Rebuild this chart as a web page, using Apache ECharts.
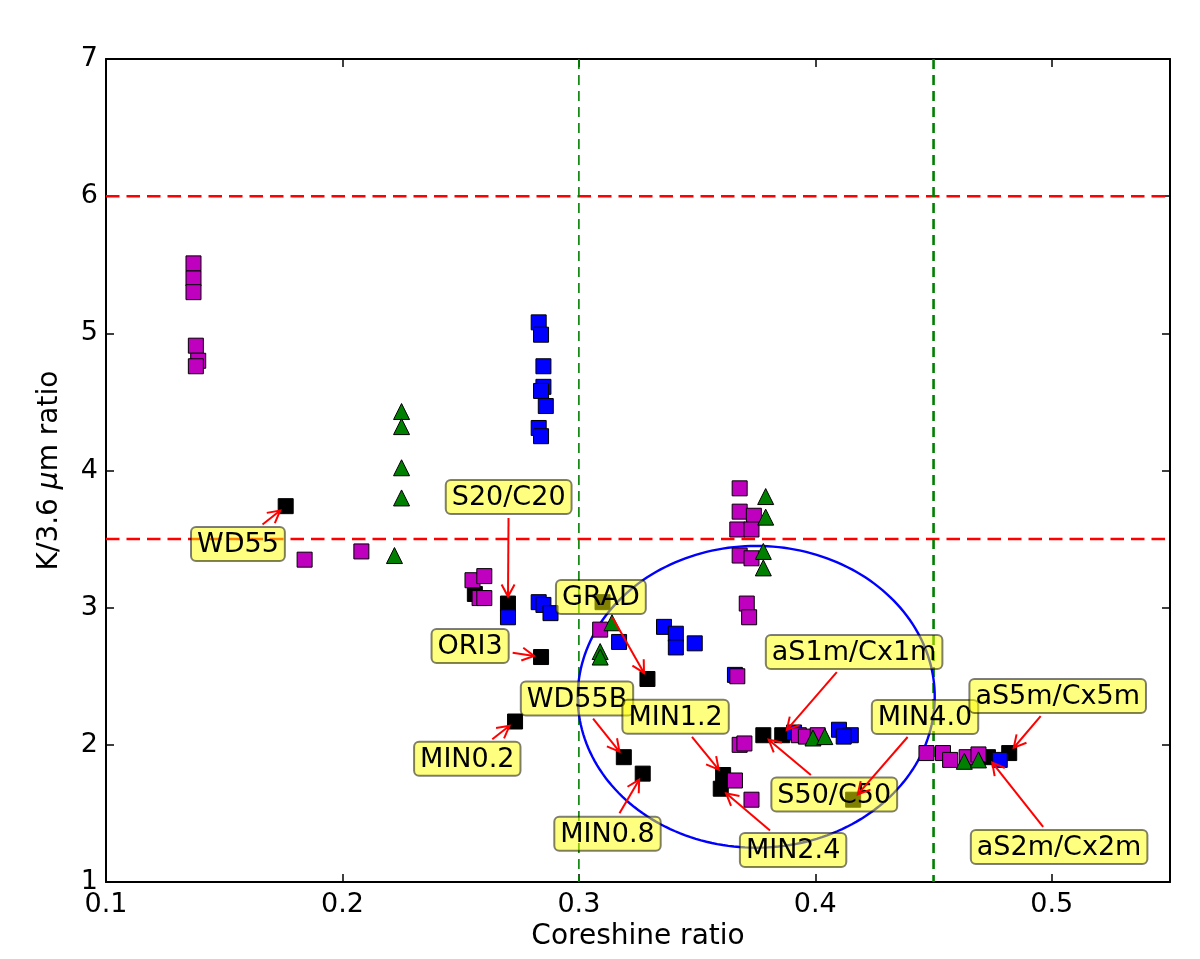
<!DOCTYPE html>
<html><head><meta charset="utf-8">
<script src="https://cdn.jsdelivr.net/npm/echarts@6/dist/echarts.min.js"></script>
<style>html,body{margin:0;padding:0;background:#fff}#chart{width:1200px;height:959px}</style>
</head><body><div id="chart"></div>
<script>
// ---- data ----
const magentaPoints = [
  [0.137,5.51],[0.137,5.40],[0.137,5.30],[0.138,4.91],[0.139,4.80],[0.138,4.76],
  [0.184,3.35],[0.208,3.41],[0.255,3.20],[0.260,3.23],[0.258,3.07],[0.260,3.07],
  [0.309,2.84],[0.368,3.87],[0.368,3.70],[0.374,3.67],[0.367,3.57],[0.373,3.57],
  [0.368,3.38],[0.373,3.36],[0.371,3.03],[0.372,2.93],[0.367,2.50],[0.368,2.00],
  [0.370,2.01],[0.393,2.07],[0.396,2.06],[0.401,2.07],[0.366,1.74],[0.373,1.60],
  [0.447,1.94],[0.454,1.94],[0.457,1.89],[0.464,1.91],[0.469,1.93]
];
const bluePoints = [
  [0.283,5.08],[0.284,4.99],[0.285,4.76],[0.285,4.61],[0.284,4.58],[0.286,4.47],
  [0.283,4.31],[0.284,4.25],[0.270,2.93],[0.283,3.04],[0.285,3.02],[0.288,2.96],
  [0.317,2.75],[0.336,2.86],[0.341,2.81],[0.341,2.71],[0.349,2.74],[0.366,2.51],
  [0.391,2.09],[0.410,2.11],[0.415,2.07],[0.412,2.06],[0.478,1.89]
];
const greenPoints = [
  [0.225,4.43],[0.225,4.32],[0.225,4.02],[0.225,3.80],[0.222,3.38],[0.314,2.89],
  [0.309,2.68],[0.309,2.64],[0.379,3.81],[0.379,3.66],[0.378,3.41],[0.378,3.29],
  [0.399,2.05],[0.404,2.06],[0.463,1.88],[0.469,1.89]
];
const blackPoints = [
  [0.176,3.74],[0.270,3.03],[0.284,2.64],[0.329,2.48],[0.273,2.17],[0.319,1.91],
  [0.327,1.79],[0.361,1.78],[0.360,1.68],[0.378,2.07],[0.386,2.07],[0.416,1.60],
  [0.482,1.94],[0.473,1.91],[0.310,3.04],[0.256,3.10]
];
const xTicks = [0.1,0.2,0.3,0.4,0.5];
const yTicks = [1,2,3,4,5,6,7];
const refLinesY = [6, 3.5];
const refLinesX = [0.3, 0.45];
const ellipseParams = [[0.375, 2.35, 0.0755, 1.10]]; // centre x, centre y, half-width, half-height
const annotationTexts = ['WD55','S20/C20','ORI3','GRAD','MIN0.2','WD55B','MIN0.8','MIN1.2','MIN2.4','S50/C50','aS1m/Cx1m','MIN4.0','aS5m/Cx5m','aS2m/Cx2m'];
const annotationTargetIndex = [0,1,2,3,4,5,6,7,8,9,10,11,12,13];
const annotationLabelPos = [
  [0.1558,3.464],[0.2703,3.806],[0.2540,2.720],[0.3093,3.077],[0.2528,1.899],
  [0.2992,2.337],[0.3121,1.352],[0.3409,2.205],[0.3906,1.233],[0.4080,1.638],
  [0.4164,2.676],[0.4464,2.203],[0.5025,2.356],[0.5031,1.255]
];

// ---- chart ----
const X_MIN = 0.1, X_MAX = 0.55, Y_MIN = 1, Y_MAX = 7;
const FONT = '"DejaVu Sans", "Liberation Sans", sans-serif';
const chart = echarts.init(document.getElementById('chart'), null, {renderer:'canvas'});

const measureCtx = document.createElement('canvas').getContext('2d');
measureCtx.font = '27px "DejaVu Sans"';

function fmtX(v){
  const r = Math.round(v*10);
  if (Math.abs(v*10 - r) > 1e-6) return '';
  return xTicks.indexOf(r/10) >= 0 ? String(r/10) : '';
}
function fmtY(v){
  return yTicks.indexOf(Math.round(v)) >= 0 && Math.abs(v-Math.round(v))<1e-6 ? String(Math.round(v)) : '';
}

const axisLineStyle = {color:'#000', width:2};
const tickStyle = {show:true, inside:true, length:8, lineStyle:{color:'#000', width:1.5}};

function scatterSeries(name, data, color, symbol, size){
  return {
    name, type:'scatter', data, symbol, symbolSize:size, z:3,
    itemStyle:{color, borderColor:'#000', borderWidth:1, opacity:1},
    emphasis:{disabled:true}, silent:true
  };
}

const option = {
  animation:false,
  backgroundColor:'#fff',
  grid:{left:106, right:30, top:59, bottom:77, containLabel:false, outerBoundsMode:'none'},
  xAxis:[
    {type:'value', min:X_MIN, max:X_MAX, interval:0.1, position:'bottom',
     name:'Coreshine ratio', nameLocation:'middle', nameGap:38,
     nameTextStyle:{fontSize:28, fontFamily:FONT, color:'#000'},
     axisLine:{show:true, onZero:false, lineStyle:axisLineStyle},
     axisTick:tickStyle, splitLine:{show:false},
     axisLabel:{fontSize:27, fontFamily:FONT, color:'#000', margin:9, formatter:fmtX}},
    {type:'value', min:X_MIN, max:X_MAX, interval:0.1, position:'top',
     axisLine:{show:true, onZero:false, lineStyle:axisLineStyle},
     axisTick:tickStyle, splitLine:{show:false}, axisLabel:{show:false}}
  ],
  yAxis:[
    {type:'value', min:Y_MIN, max:Y_MAX, interval:1, position:'left',
     name:'K/3.6 {i|μ}m ratio', nameLocation:'middle', nameGap:42,
     nameTextStyle:{fontSize:28, fontFamily:FONT, color:'#000',
       rich:{i:{fontSize:28, fontFamily:FONT, fontStyle:'italic', color:'#000'}}},
     axisLine:{show:true, onZero:false, lineStyle:axisLineStyle},
     axisTick:tickStyle, splitLine:{show:false},
     axisLabel:{fontSize:27, fontFamily:FONT, color:'#000', margin:8, formatter:fmtY}},
    {type:'value', min:Y_MIN, max:Y_MAX, interval:1, position:'right',
     axisLine:{show:true, onZero:false, lineStyle:axisLineStyle},
     axisTick:tickStyle, splitLine:{show:false}, axisLabel:{show:false}}
  ],
  series:[
    // horizontal red dashed reference lines
    {type:'custom', z:1, silent:true, clip:false,
     data: refLinesY.map(v => [v]),
     encode:{y:0},
     renderItem:function(params, api){
       const cs = params.coordSys;
       const y = api.coord([X_MIN, api.value(0)])[1];
       return {type:'line', shape:{x1:cs.x, y1:y, x2:cs.x+cs.width, y2:y},
               style:{stroke:'#ff0000', lineWidth:2.5, lineDash:[13.5,7]}};
     }},
    // vertical green dashed reference lines
    {type:'custom', z:1, silent:true, clip:false,
     data: refLinesX.map(v => [v]),
     encode:{x:0},
     renderItem:function(params, api){
       const cs = params.coordSys;
       const x = api.coord([api.value(0), Y_MIN])[0];
       const w = params.dataIndex === 0 ? 1.6 : 2.6;
       return {type:'line', shape:{x1:x, y1:cs.y, x2:x, y2:cs.y+cs.height},
               style:{stroke:'#008000', lineWidth:w, lineDash:[10,6]}};
     }},
    // ellipse
    {type:'custom', z:2, silent:true, clip:false,
     data: ellipseParams,
     encode:{x:0, y:1},
     renderItem:function(params, api){
       const c = api.coord([api.value(0), api.value(1)]);
       const s = api.size([api.value(2), api.value(3)]);
       const pts = [];
       for (let k=0; k<=200; k++){
         const a = k/200*Math.PI*2;
         pts.push([c[0]+s[0]*Math.cos(a), c[1]+s[1]*Math.sin(a)]);
       }
       return {type:'polyline', shape:{points:pts}, style:{stroke:'#0000ff', lineWidth:2.4, fill:'none'}};
     }},
    scatterSeries('black', blackPoints, '#000000', 'rect', 15),
    scatterSeries('blue', bluePoints, '#0000ff', 'rect', 15),
    scatterSeries('magenta', magentaPoints, '#bf00bf', 'rect', 15),
    scatterSeries('green', greenPoints, '#008000', 'triangle', 16),
    // annotations
    {type:'custom', z:5, silent:true, clip:false,
     data: annotationTexts.map((t,i) => annotationLabelPos[i].concat(blackPoints[annotationTargetIndex[i]])),
     encode:{x:[0,2], y:[1,3]},
     renderItem:function(params, api){
       const i = params.dataIndex;
       const lp = api.coord([api.value(0), api.value(1)]);
       const tp = api.coord([api.value(2), api.value(3)]);
       const text = annotationTexts[i];
       const tw = measureCtx.measureText(text).width;
       const bw = tw + 12, bh = 34;
       const dx = tp[0]-lp[0], dy = tp[1]-lp[1];
       const len = Math.hypot(dx,dy);
       const ux = dx/len, uy = dy/len;
       const sx = Math.abs(ux) > 1e-9 ? (bw/2)/Math.abs(ux) : Infinity;
       const sy = Math.abs(uy) > 1e-9 ? (bh/2)/Math.abs(uy) : Infinity;
       const sEdge = Math.min(sx, sy) + 4;
       const start = [lp[0]+ux*sEdge, lp[1]+uy*sEdge];
       const end = [tp[0]-ux*7, tp[1]-uy*7];
       const ah = 12, aw = 6.5;
       const bx = end[0]-ux*ah, by = end[1]-uy*ah;
       const p1 = [bx - uy*aw, by + ux*aw], p2 = [bx + uy*aw, by - ux*aw];
       return {type:'group', children:[
         {type:'line', shape:{x1:start[0], y1:start[1], x2:end[0], y2:end[1]},
          style:{stroke:'#ff0000', lineWidth:2}},
         {type:'polyline', shape:{points:[p1, end, p2]},
          style:{stroke:'#ff0000', lineWidth:2, fill:'none'}},
         {type:'rect', shape:{x:lp[0]-bw/2, y:lp[1]-bh/2, width:bw, height:bh, r:5},
          style:{fill:'rgba(255,255,0,0.5)', stroke:'rgba(0,0,0,0.5)', lineWidth:2}},
         {type:'text', style:{text:text, x:lp[0], y:lp[1]+1, align:'center', verticalAlign:'middle',
          fontSize:27, fontFamily:'"DejaVu Sans"', fill:'#000'}}
       ]};
     }}
  ]
};
chart.setOption(option);
</script>
</body></html>
